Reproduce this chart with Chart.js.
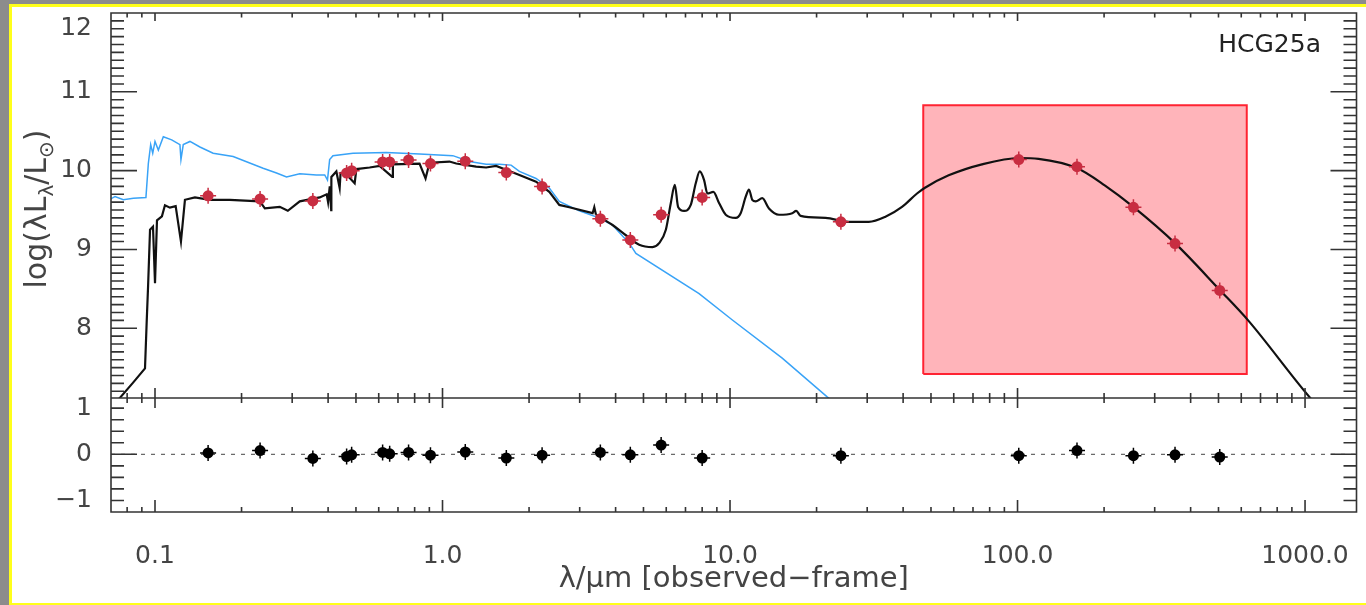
<!DOCTYPE html>
<html>
<head>
<meta charset="utf-8">
<script src="https://cdn.jsdelivr.net/npm/chart.js@4/dist/chart.umd.min.js"></script>
<style>
  html, body { margin: 0; padding: 0; background: #8c8c8c; width: 1366px; height: 605px; overflow: hidden; }
  #paper { position: absolute; left: 9px; top: 4px; width: 1354px; height: 596px; background: #fff;
           border-left: 3px solid #ffff1a; border-top: 3px solid #ffff1a; border-bottom: 2px solid #ffff1a; }
  #c { position: absolute; left: 0; top: 0; }
</style>
</head>
<body>
<div id="paper"></div>
<canvas id="c" width="1366" height="605"></canvas>
<script>
// ---------------- data ----------------
const modelWave = [0.0704, 0.0756, 0.0839, 0.0923, 0.0936, 0.0946, 0.0961, 0.0984, 0.1000, 0.1016, 0.1057, 0.1083, 0.1127, 0.1180, 0.1231, 0.1271, 0.1377, 0.1552, 0.182, 0.2315, 0.241, 0.2716, 0.2897, 0.3188, 0.374, 0.3955, 0.400, 0.4054, 0.410, 0.4106, 0.4274, 0.4388, 0.442, 0.4566, 0.4948, 0.5016, 0.5578, 0.6043, 0.6687, 0.672, 0.832, 0.873, 0.901, 1.057, 1.116, 1.309, 1.418, 1.536, 1.664, 1.851, 2.115, 2.352, 2.548, 2.76, 3.327, 3.372, 3.418, 3.903, 4.344, 4.831, 5.373, 5.668, 5.981, 6.225, 6.427, 6.598, 6.922, 7.302, 7.600, 7.848, 8.125, 8.342, 8.750, 9.158, 9.662, 10.47, 10.89, 11.34, 11.64, 11.95, 12.28, 12.95, 13.66, 14.80, 16.46, 16.99, 17.60, 21.49, 25.89, 30.38, 34.72, 39.65, 44.71, 47.5, 57.6, 75.2, 101.4, 118.3, 161.5, 201.6, 252.8, 352.8, 504.1, 634, 1046, 1150];
const modelLum  = [6.98, 7.12, 7.31, 7.49, 8.10, 8.53, 9.25, 9.29, 8.57, 9.37, 9.42, 9.56, 9.53, 9.55, 9.10, 9.63, 9.66, 9.63, 9.63, 9.61, 9.52, 9.54, 9.49, 9.61, 9.66, 9.70, 9.60, 9.80, 9.50, 9.92, 9.99, 9.78, 9.97, 9.975, 9.84, 10.02, 10.04, 10.06, 9.92, 10.08, 10.09, 9.90, 10.10, 10.115, 10.09, 10.05, 10.04, 10.06, 10.01, 9.945, 9.86, 9.73, 9.565, 9.535, 9.46, 9.535, 9.44, 9.31, 9.18, 9.06, 9.03, 9.08, 9.25, 9.59, 9.82, 9.54, 9.49, 9.565, 9.84, 9.99, 9.88, 9.71, 9.73, 9.59, 9.44, 9.40, 9.46, 9.67, 9.76, 9.63, 9.61, 9.65, 9.52, 9.44, 9.46, 9.49, 9.425, 9.40, 9.35, 9.35, 9.415, 9.54, 9.71, 9.78, 9.94, 10.08, 10.16, 10.15, 10.03, 9.81, 9.54, 9.08, 8.49, 8.10, 7.11, 6.95];
const modelSmoothFrom = 3.418;   // dust/PAH part of the model is a smooth curve

const starWave = [0.0700, 0.0726, 0.0776, 0.0841, 0.0930, 0.0948, 0.0966, 0.0982, 0.1000, 0.1027, 0.1069, 0.1143, 0.1221, 0.1231, 0.1254, 0.1323, 0.1433, 0.1593, 0.1870, 0.2377, 0.2647, 0.2867, 0.3188, 0.3642, 0.3893, 0.398, 0.405, 0.4159, 0.4881, 0.6375, 0.832, 1.086, 1.241, 1.418, 1.577, 1.732, 1.851, 2.115, 2.352, 2.548, 2.991, 3.5, 3.9, 4.46, 4.706, 7.805, 10.19, 15.19, 21.77, 30.38];
const starLum  = [9.64, 9.67, 9.63, 9.65, 9.66, 10.09, 10.33, 10.22, 10.37, 10.26, 10.43, 10.39, 10.33, 10.14, 10.33, 10.37, 10.30, 10.22, 10.18, 10.03, 9.97, 9.92, 9.96, 9.945, 9.945, 9.88, 10.14, 10.19, 10.22, 10.23, 10.21, 10.19, 10.115, 10.08, 10.08, 10.07, 9.99, 9.90, 9.78, 9.61, 9.49, 9.40, 9.31, 9.08, 8.95, 8.44, 8.105, 7.62, 7.13, 6.70];

const photWave  = [0.153, 0.232, 0.354, 0.464, 0.483, 0.619, 0.655, 0.762, 0.908, 1.20, 1.667, 2.22, 3.54, 4.50, 5.76, 8.0, 24.3, 101, 161, 253, 353, 505];
const photLum   = [9.68, 9.64, 9.615, 9.97, 10.00, 10.11, 10.11, 10.135, 10.09, 10.12, 9.975, 9.80, 9.39, 9.12, 9.44, 9.66, 9.35, 10.14, 10.05, 9.535, 9.075, 8.48];
const residVal  = [0.03, 0.08, -0.09, -0.05, -0.01, 0.04, 0.01, 0.04, -0.02, 0.05, -0.08, -0.02, 0.04, -0.01, 0.20, -0.08, -0.03, -0.03, 0.08, -0.03, -0.01, -0.06];

const boxWave = [47, 627];        // far-IR shaded window (x extent)
const boxLum  = [7.42, 10.83];    // (y extent)
const zeroWave = [0.0703, 1510];

const xTicks = [0.1, 1, 10, 100, 1000];
const xTickLabels = ['0.1', '1.0', '10.0', '100.0', '1000.0'];
const yTicks = [8, 9, 10, 11, 12];
const residTicks = [-1, 0, 1];

const galaxyName = 'HCG25a';
const xTitle = 'λ/μm [observed\u2212frame]';

// ---------------- build datasets ----------------
const pts = (xs, ys) => xs.map((v, i) => ({ x: v, y: ys[i] }));
const modelPts = pts(modelWave, modelLum);
const modelA = modelPts.filter(p => p.x <= modelSmoothFrom);
const modelB = modelPts.filter(p => p.x >= modelSmoothFrom);
const RED = 'rgb(200,45,65)';
const FONT = 'DejaVu Sans';
const TXT = '#444';

const datasets = [
  { label: 'resid', data: pts(photWave, residVal), yAxisID: 'yr', showLine: false, pointStyle: 'circle', pointRadius: 5.5, pointBackgroundColor: '#000', pointBorderWidth: 0, order: 0 },
  { label: 'residErr', data: pts(photWave, residVal), yAxisID: 'yr', showLine: false, pointStyle: 'cross', pointRadius: 8, pointBorderColor: '#000', pointBorderWidth: 1.5, order: 0 },
  { label: 'zero', data: pts(zeroWave, [0, 0]), yAxisID: 'yr', borderColor: '#444', borderWidth: 1, borderDash: [4, 6], pointRadius: 0, order: 5 },
  { label: 'phot', data: pts(photWave, photLum), yAxisID: 'y', showLine: false, pointStyle: 'circle', pointRadius: 5.5, pointBackgroundColor: RED, pointBorderWidth: 0, order: 1 },
  { label: 'photErr', data: pts(photWave, photLum), yAxisID: 'y', showLine: false, pointStyle: 'cross', pointRadius: 8, pointBorderColor: RED, pointBorderWidth: 1.5, order: 1 },
  { label: 'model', data: modelA, yAxisID: 'y', borderColor: '#111', borderWidth: 2.2, pointRadius: 0, tension: 0, order: 2 },
  { label: 'modelDust', data: modelB, yAxisID: 'y', borderColor: '#111', borderWidth: 2.2, pointRadius: 0, cubicInterpolationMode: 'monotone', order: 2 },
  { label: 'stars', data: pts(starWave, starLum), yAxisID: 'y', borderColor: '#39a3f7', borderWidth: 1.5, pointRadius: 0, tension: 0, order: 3 },
  { label: 'box', data: pts([boxWave[0], boxWave[0], boxWave[1], boxWave[1], boxWave[0]], [boxLum[0], boxLum[1], boxLum[1], boxLum[0], boxLum[0]]),
    yAxisID: 'y', borderColor: 'rgb(255,35,50)', borderWidth: 2, backgroundColor: 'rgb(255,180,186)', fill: 'shape', pointRadius: 0, tension: 0, order: 10 }
];

// ---------------- decorations: frame, inward ticks, titles ----------------
const decor = {
  id: 'decor',
  afterDatasetsDraw(chart) {
    const ctx = chart.ctx;
    const xs = chart.scales.x, ys = chart.scales.y, rs = chart.scales.yr;
    const L = xs.left, R = xs.right, T = ys.top, M = ys.bottom, B = rs.bottom;
    ctx.save();
    ctx.strokeStyle = '#333';
    ctx.lineWidth = 1.6;
    ctx.beginPath();
    ctx.rect(L, T, R - L, B - T);
    ctx.moveTo(L, M); ctx.lineTo(R, M);
    for (let d = -2; d <= 3; d++) {
      for (let m = 1; m <= 9; m++) {
        const v = m * Math.pow(10, d);
        if (v < xs.min || v > xs.max) continue;
        const px = xs.getPixelForValue(v);
        const big = m === 1;
        ctx.moveTo(px, T); ctx.lineTo(px, T + (big ? 8 : 4.5));
        ctx.moveTo(px, M - (big ? 10 : 5)); ctx.lineTo(px, M + (big ? 10 : 5));
        ctx.moveTo(px, B); ctx.lineTo(px, B - (big ? 12 : 5));
      }
    }
    for (let i = 72; i <= 120; i++) {
      const py = ys.getPixelForValue(i / 10);
      const len = i % 10 === 0 ? 26 : 13;
      ctx.moveTo(L, py); ctx.lineTo(L + len, py);
      ctx.moveTo(R, py); ctx.lineTo(R - len, py);
    }
    for (let i = -5; i <= 4; i++) {
      const py = rs.getPixelForValue(i * 0.25);
      const len = i === 0 ? 26 : 13;
      ctx.moveTo(L, py); ctx.lineTo(L + len, py);
      ctx.moveTo(R, py); ctx.lineTo(R - len, py);
    }
    ctx.stroke();

    // galaxy name
    ctx.fillStyle = '#222';
    ctx.font = '25px "' + FONT + '"';
    ctx.textAlign = 'right';
    ctx.textBaseline = 'middle';
    ctx.fillText(galaxyName, 1321, 45);

    // y title with subscripts: log(λL_λ/L_⊙)
    const big = '30px "' + FONT + '"', small = '20px "' + FONT + '"';
    const parts = [['log(λL', big, 0], ['λ', small, 7], ['/L', big, 0], ['⊙', small, 7], [')', big, 0]];
    let total = 0;
    parts.forEach(p => { ctx.font = p[1]; total += ctx.measureText(p[0]).width; });
    ctx.translate(46, 209);
    ctx.rotate(-Math.PI / 2);
    ctx.textAlign = 'left';
    ctx.textBaseline = 'alphabetic';
    ctx.fillStyle = TXT;
    let cx = -total / 2;
    parts.forEach(p => { ctx.font = p[1]; ctx.fillText(p[0], cx, p[2]); cx += ctx.measureText(p[0]).width; });
    ctx.restore();
  }
};

const tickFont = { family: FONT, size: 25 };
const fixY = s => { s.width = 111; s.paddingTop = 0; s.paddingBottom = 0; };

new Chart(document.getElementById('c'), {
  type: 'line',
  data: { datasets },
  options: {
    responsive: false,
    animation: false,
    devicePixelRatio: 1,
    layout: { padding: { left: 0, top: 13, right: 7, bottom: 0 } },
    plugins: { legend: { display: false }, tooltip: { enabled: false } },
    scales: {
      x: {
        type: 'logarithmic', position: 'bottom', min: 0.0703, max: 1510,
        grid: { display: false }, border: { display: false },
        afterBuildTicks: s => { s.ticks = xTicks.map(v => ({ value: v })); },
        ticks: { autoSkip: false, maxRotation: 0, padding: 21, font: tickFont, color: TXT,
                 callback: (v, i) => xTickLabels[i] },
        title: { display: true, text: xTitle, font: { family: FONT, size: 29 }, color: TXT, padding: { top: 0, bottom: 8 } },
        afterFit: s => { s.height = 93; s.paddingLeft = 0; s.paddingRight = 0; }
      },
      y: {
        type: 'linear', position: 'left', stack: 'panels', stackWeight: 385, weight: 2,
        min: 7.115, max: 12,
        grid: { display: false }, border: { display: false },
        afterBuildTicks: s => { s.ticks = yTicks.map(v => ({ value: v })); },
        ticks: { autoSkip: false, padding: 11, font: tickFont, color: TXT,
                 callback: v => (v === 12 ? ['', '12'] : String(v)) },
        afterFit: fixY
      },
      yr: {
        type: 'linear', position: 'left', stack: 'panels', stackWeight: 114, weight: 1,
        min: -1.25, max: 1.22,
        grid: { display: false }, border: { display: false },
        afterBuildTicks: s => { s.ticks = residTicks.map(v => ({ value: v })); },
        ticks: { autoSkip: false, padding: 11, font: tickFont, color: TXT,
                 callback: v => (v < 0 ? '\u2212' + Math.abs(v) : String(v)) },
        afterFit: fixY
      }
    }
  },
  plugins: [decor]
});
</script>
</body>
</html>
